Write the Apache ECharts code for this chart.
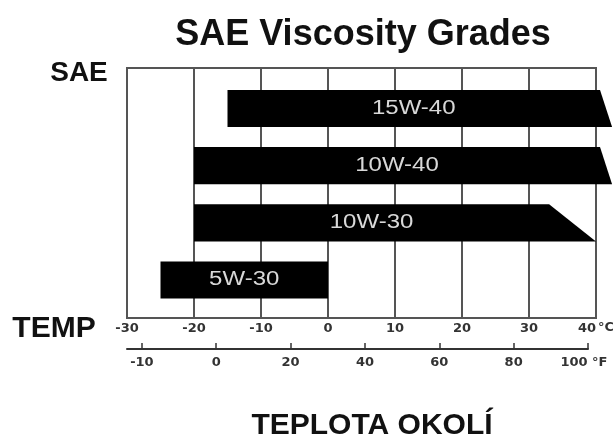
<!DOCTYPE html>
<html>
<head>
<meta charset="utf-8">
<script src="https://cdn.jsdelivr.net/npm/echarts@6/dist/echarts.min.js"></script>
<style>
  html, body { margin: 0; padding: 0; background: #fff; }
  #chart { width: 613px; height: 436px; }
</style>
</head>
<body>
<div id="chart"></div>
<script>
// SAE grades, bottom to top
const grades = ['5W-30', '10W-30', '10W-40', '15W-40'];
// lowest temperature (°C) for each grade
const lowTemp = [-25, -20, -20, -15];
// right end of the bar, top edge and bottom edge (slanted ends)
const highTempTop = [0, 33, 40.6, 40.6];
const highTempBottom = [0, 40, 42.4, 42.4];

// °C scale
const celsiusMin = -30;
const celsiusMax = 40;
// °F scale (ticks and the labels as printed)
const fahrenheitTicks = [-20, 0, 20, 40, 60, 80, 100];
const fahrenheitLabels = ['-10', '0', '20', '40', '60', '80', '100'];

const titleText = 'SAE Viscosity Grades';
const bottomText = 'TEPLOTA OKOLÍ';

const FONT = "'Liberation Sans', Arial, sans-serif";
const AXIS_FONT = "'DejaVu Sans', sans-serif";

const chart = echarts.init(document.getElementById('chart'));

const barData = grades.map((g, i) => [i, lowTemp[i], highTempTop[i], highTempBottom[i]]);

const option = {
  backgroundColor: '#fff',
  animation: false,
  grid: [
    { // main box
      left: 127, right: 17, top: 68, bottom: 118,
      show: true, borderColor: '#555', borderWidth: 2
    },
    { // fahrenheit scale
      left: 127, width: 461, top: 340, height: 9
    }
  ],
  xAxis: [
    {
      type: 'value', gridIndex: 0,
      min: celsiusMin, max: celsiusMax, interval: 10,
      axisLine: { show: true, onZero: false, lineStyle: { color: '#555', width: 2 } },
      axisTick: { show: false },
      splitLine: { show: true, lineStyle: { color: '#555', width: 2 } },
      axisLabel: {
        margin: 4,
        color: '#333',
        fontFamily: AXIS_FONT,
        fontWeight: 'bold',
        fontSize: 13,
        alignMaxLabel: 'right'
      }
    },
    {
      type: 'value', gridIndex: 1,
      min: -24, max: 100,
      axisLine: { show: true, onZero: false, lineStyle: { color: '#333', width: 2 } },
      axisTick: {
        show: true, inside: true, length: 6,
        customValues: fahrenheitTicks,
        lineStyle: { color: '#333', width: 1.5 }
      },
      splitLine: { show: false },
      axisLabel: {
        margin: 7,
        color: '#333',
        fontFamily: AXIS_FONT,
        fontWeight: 'bold',
        fontSize: 13,
        customValues: fahrenheitTicks,
        formatter: function (v) {
          const i = fahrenheitTicks.indexOf(v);
          if (i < 0) return '';
          // last label sits left of its tick to leave room for °F
          return i === fahrenheitTicks.length - 1 ? '{last|' + fahrenheitLabels[i] + '}' : fahrenheitLabels[i];
        },
        rich: {
          last: {
            padding: [0, 28, 0, 0],
            color: '#333',
            fontFamily: AXIS_FONT,
            fontWeight: 'bold',
            fontSize: 13
          }
        }
      }
    }
  ],
  yAxis: [
    { type: 'value', gridIndex: 0, min: -0.665, max: 3.708, show: false },
    { type: 'value', gridIndex: 1, min: 0, max: 1, show: false }
  ],
  graphic: [
    { type: 'text', x: 363, y: 35, style: { text: titleText, font: 'bold 36px ' + FONT, fill: '#111', align: 'center', verticalAlign: 'middle' } },
    { type: 'text', x: 79, y: 73, style: { text: 'SAE', font: 'bold 28px ' + FONT, fill: '#111', align: 'center', verticalAlign: 'middle' } },
    { type: 'text', x: 54, y: 329, style: { text: 'TEMP', font: 'bold 30px ' + FONT, fill: '#111', align: 'center', verticalAlign: 'middle' } },
    { type: 'text', x: 598, y: 328, style: { text: '°C', font: 'bold 13px ' + AXIS_FONT, fill: '#333', align: 'left', verticalAlign: 'middle' } },
    { type: 'text', x: 592, y: 363, style: { text: '°F', font: 'bold 13px ' + AXIS_FONT, fill: '#333', align: 'left', verticalAlign: 'middle' } },
    { type: 'text', x: 372, y: 426, style: { text: bottomText, font: 'bold 30px ' + FONT, fill: '#111', align: 'center', verticalAlign: 'middle' } }
  ],
  series: [{
    type: 'custom',
    xAxisIndex: 0,
    yAxisIndex: 0,
    clip: false,
    encode: { x: [1, 2, 3], y: 0 },
    data: barData,
    renderItem: function (params, api) {
      const y = api.value(0);
      const lo = api.value(1);
      const hiT = api.value(2);
      const hiB = api.value(3);
      const h = api.size([0, 0.65])[1];
      const c = api.coord([lo, y]);
      const top = c[1] - h / 2;
      const bottom = c[1] + h / 2;
      const xLo = c[0];
      const xTop = api.coord([hiT, y])[0];
      const xBot = api.coord([hiB, y])[0];
      return {
        type: 'group',
        children: [
          {
            type: 'polygon',
            shape: { points: [[xLo, top], [xTop, top], [xBot, bottom], [xLo, bottom]] },
            style: { fill: '#000' }
          },
          {
            type: 'text',
            x: (xLo + xTop) / 2,
            y: c[1],
            scaleX: 1.2,
            style: {
              text: grades[params.dataIndex],
              x: 0, y: 0,
              align: 'center', verticalAlign: 'middle',
              font: '20px ' + FONT,
              fill: '#d8d8d8'
            }
          }
        ]
      };
    }
  }]
};

chart.setOption(option);
</script>
</body>
</html>
